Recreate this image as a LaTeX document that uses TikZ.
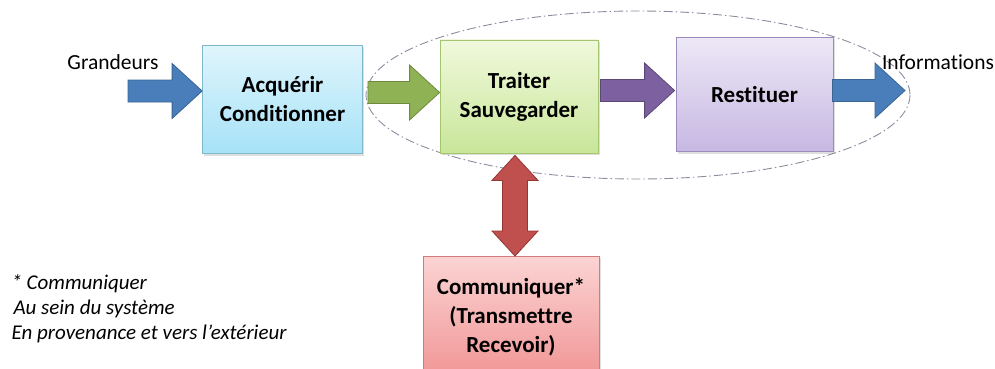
\documentclass[tikz,border=0pt]{standalone}
\usepackage{fontspec}
\setmainfont{Carlito}[RawFeature=-liga]
\usetikzlibrary{positioning,calc,shadows}

\definecolor{blueTop}{HTML}{DFF5FC}
\definecolor{blueBot}{HTML}{A6E2F7}
\definecolor{blueLine}{HTML}{7FB8CC}
\definecolor{greenTop}{HTML}{F0F9DC}
\definecolor{greenBot}{HTML}{C9E69A}
\definecolor{greenLine}{HTML}{A5C46F}
\definecolor{violTop}{HTML}{EDE8F6}
\definecolor{violBot}{HTML}{C7B8E2}
\definecolor{violLine}{HTML}{9B8CBF}
\definecolor{redTop}{HTML}{FBD3D3}
\definecolor{redBot}{HTML}{F19595}
\definecolor{redLine}{HTML}{D47A7A}
\definecolor{arrBlue}{HTML}{4A7EBB}
\definecolor{arrBlueD}{HTML}{3A6593}
\definecolor{arrGreen}{HTML}{8FB255}
\definecolor{arrGreenD}{HTML}{71893F}
\definecolor{arrViol}{HTML}{7D60A0}
\definecolor{arrViolD}{HTML}{5C4776}
\definecolor{arrRed}{HTML}{C0504D}
\definecolor{arrRedD}{HTML}{943634}
\definecolor{ringGray}{HTML}{8C8CA0}

\begin{document}
\begin{tikzpicture}[x=1pt, y=-1pt,
    block/.style={rectangle, draw, line width=0.8pt, align=center,
        font=\bfseries\fontsize{23}{29}\selectfont,
        drop shadow={shadow xshift=1.5pt, shadow yshift=-2pt, opacity=0.25}},
    fatarrow/.style={line width=0.8pt, line join=miter, to path={
        let \p1=(\tikztostart), \p2=(\tikztotarget),
            \n1={atan2(\y2-\y1,\x2-\x1)}, \n2={veclen(\x2-\x1,\y2-\y1)-30pt} in
        ($(\p1)+(\n1+90:11pt)$) -- ($(\p1)+(\n1:\n2)+(\n1+90:11pt)$)
        -- ($(\p1)+(\n1:\n2)+(\n1+90:27.5pt)$) -- (\p2)
        -- ($(\p1)+(\n1:\n2)+(\n1-90:27.5pt)$) -- ($(\p1)+(\n1:\n2)+(\n1-90:11pt)$)
        -- ($(\p1)+(\n1-90:11pt)$) -- cycle}},
    fatdarrow/.style={line width=0.8pt, line join=miter, to path={
        let \p1=(\tikztostart), \p2=(\tikztotarget),
            \n1={atan2(\y2-\y1,\x2-\x1)}, \n2={veclen(\x2-\x1,\y2-\y1)-25pt} in
        (\p1) -- ($(\p1)+(\n1:25pt)+(\n1+90:23pt)$) -- ($(\p1)+(\n1:25pt)+(\n1+90:12.5pt)$)
        -- ($(\p1)+(\n1:\n2)+(\n1+90:12.5pt)$) -- ($(\p1)+(\n1:\n2)+(\n1+90:23pt)$)
        -- (\p2)
        -- ($(\p1)+(\n1:\n2)+(\n1-90:23pt)$) -- ($(\p1)+(\n1:\n2)+(\n1-90:12.5pt)$)
        -- ($(\p1)+(\n1:25pt)+(\n1-90:12.5pt)$) -- ($(\p1)+(\n1:25pt)+(\n1-90:23pt)$)
        -- cycle}},
    label/.style={font=\fontsize{21.5}{24}\selectfont}]
    \useasboundingbox (0,0) rectangle (995,369);

    % Ring round the processing part
    \draw [ringGray, line width=0.9pt, dash pattern=on 9pt off 3pt on 1.5pt off 3pt]
        (638,95) ellipse [x radius=272, y radius=84];

    % Blocks
    \node (acq) [block, draw=blueLine, top color=blueTop, bottom color=blueBot,
        minimum width=160pt, minimum height=108pt] at (282.5,99.5) {Acquérir\\Conditionner};
    \node (trt) [block, draw=greenLine, top color=greenTop, bottom color=greenBot,
        minimum width=158pt, minimum height=113pt] at (519,96.5) {Traiter\\Sauvegarder};
    \node (rst) [block, draw=violLine, top color=violTop, bottom color=violBot,
        minimum width=157pt, minimum height=114pt] at (754.5,94.5) {Restituer};
    \node (com) [block, draw=redLine, top color=redTop, bottom color=redBot,
        minimum width=176pt, minimum height=122pt, anchor=north] at (511,256)
        {Communiquer*\\(Transmettre\\Recevoir)};

    % Outer labels
    \node (gin) [label] at (113,62) {Grandeurs};
    \node (gout) [label] at (938,62) {Informations};
    \coordinate (in) at (128,91);
    \coordinate (out) at (905,90.5);

    % Note
    \node (note) [anchor=north west, align=left, font=\itshape\fontsize{21}{25}\selectfont]
        at (8,271) {* Communiquer\\\hspace{2pt}Au sein du système\\En provenance et vers l’extérieur};

    % Arrows
    \draw [fatarrow, fill=arrBlue, draw=arrBlueD] (in) to ([shift={(0,-8.5)}]acq.west);
    \draw [fatarrow, fill=arrGreen, draw=arrGreenD] ([shift={(5,-7)}]acq.east) to ([shift={(0,-4)}]trt.west);
    \draw [fatarrow, fill=arrViol, draw=arrViolD] ([shift={(2,-6)}]trt.east) to ([shift={(-1,-4)}]rst.west);
    \draw [fatarrow, fill=arrBlue, draw=arrBlueD] ([shift={(-1,-4)}]rst.east) to (out);
    \draw [fatdarrow, fill=arrRed, draw=arrRedD] ([shift={(-4,2)}]trt.south) to ([shift={(4,0)}]com.north);
\end{tikzpicture}
\end{document}
